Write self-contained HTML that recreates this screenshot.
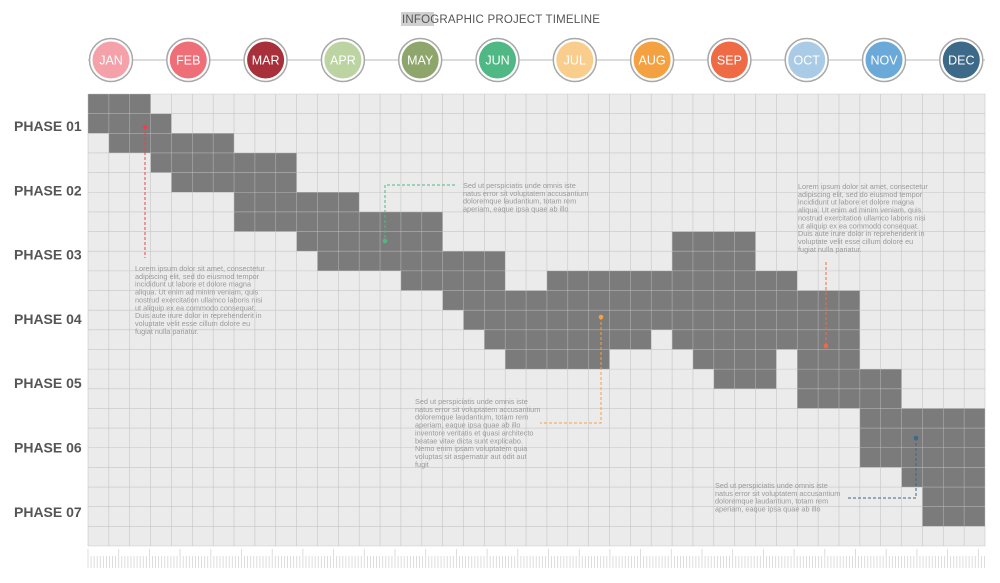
<!DOCTYPE html>
<html><head><meta charset="utf-8"><style>
body{margin:0;background:#fff;width:1000px;height:583px;overflow:hidden;font-family:"Liberation Sans",sans-serif;}
svg{display:block}
</style></head><body>
<svg width="1000" height="583">
<rect x="401" y="12" width="33" height="14" fill="#b0b0b0" opacity="0.6"/>
<text x="402" y="23" font-size="11.5" fill="#555" letter-spacing="0.2">INFOGRAPHIC  PROJECT  TIMELINE</text>
<g id="months"></g>
<g id="grid"></g>
<g id="phases"></g>
<g id="notes"></g>
<g id="ruler"></g>
</svg>
<script>
const months=['JAN','FEB','MAR','APR','MAY','JUN','JUL','AUG','SEP','OCT','NOV','DEC'];
const monthColors=['#f4a1a9','#ef6f78','#a8303b','#bcd4a1','#8ea66b','#4fb884','#f9ce8d','#f4a241','#ef6b46','#a9cbe6','#6ba9d8','#3e6a8a'];
const phases=['PHASE 01','PHASE 02','PHASE 03','PHASE 04','PHASE 05','PHASE 06','PHASE 07'];
// each row: list of [startCol,endCol) dark segments
const rowSegments=[
[[0,3]],[[0,4]],[[1,7]],[[3,10]],[[4,10]],[[7,13]],[[7,17]],
[[10,17],[28,32]],[[11,20],[28,32]],[[15,20],[22,34]],[[17,37]],[[18,37]],
[[19,27],[28,37]],[[20,25],[29,33],[34,37]],[[30,33],[34,39]],[[34,39]],
[[37,43]],[[37,43]],[[37,43]],[[39,43]],[[40,43]],[[40,43]],[]
];
const NS='http://www.w3.org/2000/svg';
function mk(t,a,p){const e=document.createElementNS(NS,t);for(const k in a)e.setAttribute(k,a[k]);p.appendChild(e);return e;}
const X0=88,X1=985,Y0=94,Y1=546,COLS=43,ROWS=23;
const cw=(X1-X0)/COLS,rh=(Y1-Y0)/ROWS;
const cx=c=>X0+c*cw, ry=r=>Y0+r*rh;
const gm=document.getElementById('months');
let l=mk('line',{x1:88,y1:60,x2:985,y2:60,stroke:'#d0d0d0','stroke-width':1.5},gm);

months.forEach((m,i)=>{
  const x=111+i*77.3;
  const g=mk('g',{},gm);
  
  
  mk('circle',{cx:x,cy:60,r:21.5,fill:'#fff',stroke:'#a8a8a8','stroke-width':1.5},g);
  mk('circle',{cx:x,cy:60,r:18.5,fill:monthColors[i]},g);
  const t=mk('text',{x:x,y:64.5,'text-anchor':'middle','font-size':12.5,fill:'#fff'},g);t.textContent=m;
});
const gg=document.getElementById('grid');
mk('rect',{x:X0,y:Y0,width:X1-X0,height:Y1-Y0,fill:'#ebebeb'},gg);
rowSegments.forEach((segs,r)=>segs.forEach(s=>{
  const e=mk('rect',{x:cx(s[0]),y:ry(r),width:(s[1]-s[0])*cw,height:rh,fill:'#7b7b7b'},gg);
  
  
}));
for(let c=0;c<=COLS;c++)mk('line',{x1:cx(c),y1:Y0,x2:cx(c),y2:Y1,stroke:'#bdbdbd','stroke-width':0.6,opacity:0.8},gg);
for(let r=0;r<=ROWS;r++)mk('line',{x1:X0,y1:ry(r),x2:X1,y2:ry(r),stroke:'#bdbdbd','stroke-width':0.6,opacity:0.8},gg);
const gp=document.getElementById('phases');
phases.forEach((p,i)=>{
  const t=mk('text',{x:14,y:131+i*64.3,'font-size':14,'font-weight':'bold',fill:'#555'},gp);
  t.textContent=p;
  
  
});
const gn=document.getElementById('notes');
const L1=['Lorem ipsum dolor sit amet, consectetur','adipiscing elit, sed do eiusmod tempor','incididunt ut labore et dolore magna','aliqua. Ut enim ad minim veniam, quis','nostrud exercitation ullamco laboris nisi','ut aliquip ex ea commodo consequat.','Duis aute irure dolor in reprehenderit in','voluptate velit esse cillum dolore eu','fugiat nulla pariatur.'];
const L2=['Sed ut perspiciatis unde omnis iste','natus error sit voluptatem accusantium','doloremque laudantium, totam rem','aperiam, eaque ipsa quae ab illo'];
const L3=L2.concat(['inventore veritatis et quasi architecto','beatae vitae dicta sunt explicabo.','Nemo enim ipsam voluptatem quia','voluptas sit aspernatur aut odit aut','fugit']);
function note(x,y,lines){const t=mk('text',{x:x,y:y,'font-size':7.3,fill:'#9a9a9a'},gn);
  
  lines.forEach((s,i)=>{const ts=mk('tspan',{x:x,y:y+i*7.85},t);ts.textContent=s;});}
note(135,271,L1);note(463,188,L2);note(798,189,L1);note(415,404,L3);note(715,488,L2);
function dash(pts,col){const p=mk('polyline',{points:pts,fill:'none',stroke:col,'stroke-width':1,'stroke-dasharray':'3,2'},gn);
  }
function dot(x,y,col){mk('circle',{cx:x,cy:y,r:2.3,fill:col},gn);}
dash('145,127 145,258','#e8424e');dot(145,127,'#e8424e');
dash('455,185 385,185 385,241','#4fb884');dot(385,241,'#4fb884');
dash('601,317 601,423 540,423','#f4a241');dot(601,317,'#f4a241');
dash('826,262 826,346','#ef6b46');dot(826,346,'#ef6b46');
dash('916,438 916,498 848,498','#3e6a8a');dot(916,438,'#3e6a8a');
const gr=document.getElementById('ruler');
for(let i=0;i<=292;i++){const x=88+i*3.07;const major=i%10===0;
  mk('line',{x1:x,y1:major?549:556,x2:x,y2:568,stroke:'#d5d5d5','stroke-width':0.8},gr);}
</script>
</body></html>
